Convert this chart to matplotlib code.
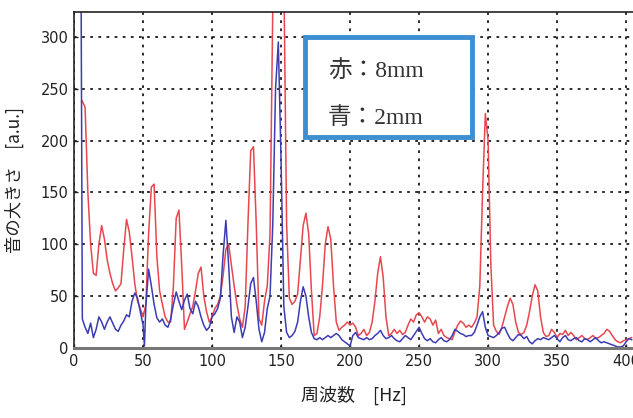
import matplotlib.pyplot as plt
from matplotlib.patches import Rectangle

# red line (8mm) - frequency [Hz] / amplitude [a.u.]
freq_red = [6, 8, 10, 12, 14, 16, 18, 20, 22, 24, 26, 28, 30, 32, 34, 36, 38, 40, 42, 44,
            46, 48, 50, 52, 54, 56, 58, 60, 62, 64, 66, 68, 70, 72, 74, 76, 78, 80, 82, 84,
            86, 88, 90, 92, 94, 96, 98, 100, 102, 104, 106, 108, 110, 112, 114, 116, 118, 120, 122, 124,
            126, 128, 130, 132, 134, 136, 138, 140, 142, 144, 146, 148, 150, 152, 154, 156, 158, 160, 162, 164,
            166, 168, 170, 172, 174, 176, 178, 180, 182, 184, 186, 188, 190, 192, 194, 196, 198, 200, 202, 204,
            206, 208, 210, 212, 214, 216, 218, 220, 222, 224, 226, 228, 230, 232, 234, 236, 238, 240, 242, 244,
            246, 248, 250, 252, 254, 256, 258, 260, 262, 264, 266, 268, 270, 272, 274, 276, 278, 280, 282, 284,
            286, 288, 290, 292, 294, 296, 298, 300, 302, 304, 306, 308, 310, 312, 314, 316, 318, 320, 322, 324,
            326, 328, 330, 332, 334, 336, 338, 340, 342, 344, 346, 348, 350, 352, 354, 356, 358, 360, 362, 364,
            366, 368, 370, 372, 374, 376, 378, 380, 382, 384, 386, 388, 390, 392, 394, 396, 398, 400, 402, 404]
amp_red = [238, 232, 150, 100, 72, 70, 100, 118, 105, 85, 72, 62, 55, 58, 62, 95, 124, 112, 88, 62,
           45, 38, 30, 42, 110, 155, 158, 88, 55, 42, 30, 25, 25, 60, 125, 133, 80, 18, 25, 33,
           40, 55, 72, 78, 50, 35, 25, 30, 38, 42, 50, 70, 95, 100, 80, 60, 42, 28, 20, 40,
           120, 190, 194, 120, 28, 22, 45, 60, 110, 330, 390, 400, 380, 360, 120, 48, 42, 45, 52, 85,
           118, 130, 110, 55, 12, 14, 30, 60, 100, 117, 105, 60, 25, 17, 20, 22, 25, 22, 24, 20,
           12, 14, 18, 12, 15, 25, 45, 72, 88, 68, 30, 12, 14, 18, 14, 17, 13, 15, 22, 28,
           25, 32, 34, 30, 25, 30, 28, 22, 27, 14, 18, 12, 10, 9, 8, 16, 22, 26, 24, 20,
           22, 20, 24, 30, 60, 150, 226, 200, 80, 22, 16, 13, 20, 30, 40, 48, 42, 25, 15, 13,
           15, 22, 35, 50, 61, 55, 30, 15, 11, 12, 18, 15, 10, 14, 13, 17, 12, 15, 12, 8,
           10, 12, 9, 8, 10, 12, 9, 10, 12, 14, 18, 16, 12, 8, 6, 5, 7, 8, 9, 10]

# blue line (2mm)
freq_blue = [5, 6, 8, 10, 12, 14, 16, 18, 20, 22, 24, 26, 28, 30, 32, 34, 36, 38, 40, 42,
             44, 46, 48, 50, 51, 52, 54, 56, 58, 60, 62, 64, 66, 68, 70, 72, 74, 76, 78, 80,
             82, 84, 86, 88, 90, 92, 94, 96, 98, 100, 102, 104, 106, 108, 110, 112, 114, 116, 118, 120,
             122, 124, 126, 128, 130, 132, 134, 136, 138, 140, 142, 144, 146, 148, 150, 152, 154, 156, 158, 160,
             162, 164, 166, 168, 170, 172, 174, 176, 178, 180, 182, 184, 186, 188, 190, 192, 194, 196, 198, 200,
             202, 204, 206, 208, 210, 212, 214, 216, 218, 220, 222, 224, 226, 228, 230, 232, 234, 236, 238, 240,
             242, 244, 246, 248, 250, 252, 254, 256, 258, 260, 262, 264, 266, 268, 270, 272, 274, 276, 278, 280,
             282, 284, 286, 288, 290, 292, 294, 296, 298, 300, 302, 304, 306, 308, 310, 312, 314, 316, 318, 320,
             322, 324, 326, 328, 330, 332, 334, 336, 338, 340, 342, 344, 346, 348, 350, 352, 354, 356, 358, 360,
             362, 364, 366, 368, 370, 372, 374, 376, 378, 380, 382, 384, 386, 388, 390, 392, 394, 396, 398, 400,
             402, 404]
amp_blue = [380, 28, 20, 14, 24, 10, 18, 30, 25, 18, 25, 30, 24, 18, 16, 22, 26, 32, 30, 45,
            53, 48, 35, 22, 2, 40, 76, 60, 42, 29, 25, 28, 22, 20, 28, 42, 54, 45, 37, 46,
            52, 38, 33, 45, 40, 30, 22, 17, 20, 30, 33, 38, 48, 90, 123, 80, 30, 15, 30, 25,
            10, 20, 40, 62, 68, 45, 18, 6, 15, 38, 50, 120, 250, 295, 180, 40, 15, 10, 12, 16,
            25, 45, 59, 50, 30, 15, 9, 8, 10, 8, 10, 12, 10, 12, 14, 12, 8, 6, 4, 2,
            12, 15, 10, 9, 8, 10, 8, 9, 12, 14, 17, 12, 9, 10, 12, 9, 7, 6, 9, 12,
            10, 8, 12, 16, 20, 14, 9, 7, 9, 6, 5, 8, 10, 7, 6, 8, 12, 18, 16, 14,
            13, 11, 12, 12, 15, 22, 30, 35, 20, 12, 11, 10, 12, 15, 19, 20, 14, 9, 7, 10,
            13, 12, 9, 11, 6, 4, 7, 9, 8, 10, 9, 8, 10, 12, 9, 6, 10, 12, 8, 7,
            9, 10, 7, 6, 9, 8, 6, 8, 10, 7, 5, 6, 5, 4, 3, 2, 1, 1, 2, 6,
            9, 8]

x_ticks = [0, 50, 100, 150, 200, 250, 300, 350, 400]
y_ticks = [0, 50, 100, 150, 200, 250, 300]
legend_lines = ['赤：8mm', '青：2mm']

fig = plt.figure(figsize=(6.33, 4.18), dpi=100)
ax = fig.add_axes([0.117, 0.1675, 0.883, 0.804])

ax.plot(freq_red, amp_red, color='#e8474f', lw=1.1)
ax.plot(freq_blue, amp_blue, color='#3c3cb4', lw=1.1)

ax.set_xlim(0, 405)
ax.set_ylim(0, 324)
ax.set_xticks(x_ticks)
ax.set_yticks(y_ticks)
ax.tick_params(direction='in', length=3, width=1, colors='#222222', labelsize=10.5, pad=4)
ax.grid(True, color='#1a1a1a', linestyle=(0, (1.5, 3)), linewidth=1.3)

for side in ['top', 'left']:
    ax.spines[side].set_color('#222222')
    ax.spines[side].set_linewidth(1.2)
ax.spines['bottom'].set_color('#777777')
ax.spines['bottom'].set_linewidth(2.2)
ax.spines['right'].set_visible(False)

jp = ['Noto Sans CJK JP', 'DejaVu Sans']
ax.set_xlabel('周波数　[Hz]', family=jp, fontsize=13, color='#222222', labelpad=12)
ax.set_ylabel('音の大きさ　[a.u.]', family=jp, fontsize=12.5, color='#222222', labelpad=12)

# legend box drawn in figure pixel space
fig.add_artist(Rectangle((305 / 633, 1 - 137 / 418), 167 / 633, 100 / 418,
                         transform=fig.transFigure, fill=True, facecolor='white',
                         edgecolor='#3d8fd2', linewidth=3.5, zorder=5))
serif = ['Liberation Serif', 'Noto Sans CJK JP']
for i, txt in enumerate(legend_lines):
    fig.text(328 / 633, 1 - (72 + 46 * i) / 418, txt, family=serif, fontsize=17,
             color='#333333', va='center', ha='left', zorder=6)

fig.savefig('out.png', dpi=100)
